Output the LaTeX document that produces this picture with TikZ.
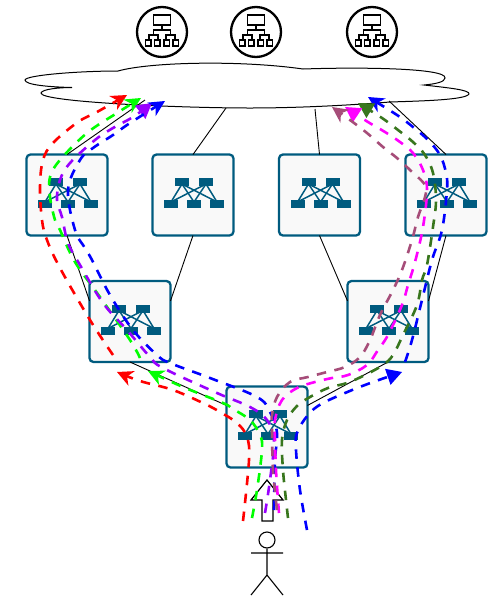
\documentclass[tikz,border=0pt]{standalone}
\usetikzlibrary{arrows.meta,calc}
\definecolor{swblue}{HTML}{005B7F}
\definecolor{boxfill}{HTML}{F9F9F9}
\definecolor{dgreen}{HTML}{38761D}
\definecolor{mauve}{HTML}{A64D79}
\definecolor{vio}{HTML}{9900FF}
\definecolor{magn}{HTML}{FF00FF}
\definecolor{rd}{HTML}{FF0000}
\definecolor{gr}{HTML}{00FF00}
\definecolor{bl}{HTML}{0000FF}
\tikzset{
  swbox/.style={draw=swblue,line width=2.3pt,fill=boxfill,rounded corners=4pt,minimum width=81pt,minimum height=81pt,inner sep=0pt,outer sep=0pt},
  link/.style={draw=black,line width=0.9pt},
  flow/.style={line width=2.6pt,dash pattern=on 9.5pt off 8.5pt},
  tipS/.style={-{Stealth[length=16pt,width=16pt,inset=5pt,line width=0pt]}},
  tipT/.style={-{Triangle[length=15pt,width=17pt,line width=0pt]}},
  srv/.style={draw=black,line width=2.3pt,fill=white,circle,minimum size=50pt,inner sep=0pt},
  srvline/.style={draw=black,line width=1.7pt},
  pics/swicon/.style={code={
    \foreach \tx in {-11,13}{\foreach \bx in {-22,1,24}{\draw[swblue,line width=1.5pt] (\tx,-11) -- (\bx,7);}}
    \foreach \tx in {-11,13}{\fill[swblue] (\tx-7,-17) rectangle (\tx+7,-9);}
    \foreach \bx in {-22,1,24}{\fill[swblue] (\bx-7,5) rectangle (\bx+7,13);}
  }},
  pics/srvicon/.style={code={
    \draw[srvline] (-8.5,-17) rectangle (8.5,-7);
    \draw[srvline] (0,-7) -- (0,-2);
    \draw[srvline] (-8.5,3) -- (-8.5,-2) -- (8.5,-2) -- (8.5,3);
    \draw[srvline] (-13,8) -- (-13,3) -- (-4,3) -- (-4,8);
    \draw[srvline] (13,8) -- (13,3) -- (4,3) -- (4,8);
    \foreach \x in {-16.5,-7.5,2,11}{\draw[srvline] (\x,8) rectangle ++(5.5,6);}
  }}
}
\begin{document}
\begin{tikzpicture}[x=1pt,y=-1pt]
\useasboundingbox (0,0) rectangle (501,598);
% servers
\node[srv] (s1) at (162,32) {};
\node[srv] (s2) at (256,32) {};
\node[srv] (s3) at (372,32) {};
\pic at (s1.center) {srvicon};
\pic at (s2.center) {srvicon};
\pic at (s3.center) {srvicon};
% cloud
\draw[fill=white,line width=1pt] (118,71)
  .. controls (150,62) and (240,60) .. (303,69)
  .. controls (360,67) and (447,68) .. (445,78)
  .. controls (445,82) and (435,84) .. (424,85)
  .. controls (450,88) and (470,90) .. (469,94)
  .. controls (466,100) and (420,101) .. (390,102)
  .. controls (340,106) and (290,108) .. (250,108)
  .. controls (180,108) and (40,102) .. (41,93)
  .. controls (42,89) and (60,87.5) .. (72,87.5)
  .. controls (50,87) and (25,85) .. (25,80)
  .. controls (26,75) and (80,71) .. (118,71) -- cycle;
\coordinate (c1) at (145,100);
\coordinate (c2) at (226,108);
\coordinate (c3) at (315,109);
\coordinate (c4) at (389,101);
% boxes
\node[swbox] (b1) at (67,195) {};
\node[swbox] (b2) at (193,195) {};
\node[swbox] (b3) at (319.5,195) {};
\node[swbox] (b4) at (446,195) {};
\node[swbox] (b5) at (130,321.5) {};
\node[swbox] (b6) at (388,321.5) {};
\node[swbox] (b7) at (267,427) {};
\foreach \n in {b1,b2,b3,b4,b5,b6,b7}{\pic at (\n.center) {swicon};}
% links
\draw[link] (c1) -- (b1.north);
\draw[link] (c2) -- (b2.north);
\draw[link] (c3) -- (b3.north);
\draw[link] (c4) -- (b4.north);
\draw[link] (b1.south) -- (b5.153);
\draw[link] (b2.south) -- (b5.27);
\draw[link] (b3.south) -- (b6.153);
\draw[link] (b4.south) -- (b6.27);
\draw[link] (b5.south) -- (b7.152);
\draw[link] (b6.south) -- (b7.28);
% person and big arrow
\draw[fill=white,line width=1.2pt] (267,480) -- (283,500) -- (273,500) -- (273,521) -- (262,521) -- (262,500) -- (251,500) -- cycle;
\node[draw=black,line width=1.1pt,circle,minimum size=16pt,inner sep=0pt] (head) at (267,540) {};
\coordinate (hip) at (267,575);
\coordinate (armL) at (251,553);
\coordinate (armR) at (283,553);
\coordinate (legL) at (251,595);
\coordinate (legR) at (283,595);
\draw[line width=1.1pt] (head) -- (hip) (armL) -- (armR) (legL) -- (hip) -- (legR);
% flows
\draw[flow,rd,tipS] plot[smooth,tension=0.6] coordinates {(243,521) (249,460) (247,437) (237,423) (220,412) (205,404) (173,390) (140,381) (117,372)};
\draw[flow,rd,tipS] plot[smooth,tension=0.6] coordinates {(113,355) (90,320) (60,268) (47,240) (42,220) (40,187) (43,160) (53,143) (78,122) (97,112) (127,95)};
\draw[flow,gr,tipS] plot[smooth,tension=0.6] coordinates {(252,518) (257,490) (262,450) (260,435) (250,420) (233,409) (223,403) (183,387) (148,371)};
\draw[flow,gr,tipS] plot[smooth,tension=0.6] coordinates {(140,358) (130,340) (100,297) (75,262) (60,230) (55,220) (50,197) (50,177) (60,160) (87,133) (117,113) (141,98)};
\draw[flow,vio,tipT] plot[smooth,tension=0.6] coordinates {(265,513) (270,480) (274,440) (267,420) (250,407) (217,393) (163,368) (150,357) (127,330) (103,303) (80,265) (68,243) (62,217) (57,200) (60,180) (70,163) (95,140) (113,128) (133,117) (152,103)};
\draw[flow,bl,tipS] plot[smooth,tension=0.6] coordinates {(274,510) (275,460) (277,433) (270,412) (257,397) (210,378) (170,363) (157,355) (133,330) (110,295) (92,260) (85,248) (75,230) (68,190) (80,160) (93,148) (113,135) (130,123) (165,101)};
\draw[flow,bl,tipT] plot[smooth,tension=0.6] coordinates {(307,530) (300,490) (296,450) (297,433) (308,415) (323,403) (357,388) (373,382) (402,372)};
\draw[flow,bl,tipS] plot[smooth,tension=0.6] coordinates {(405,362) (412,340) (422,300) (432,260) (442,230) (447,190) (446,173) (440,155) (428,140) (413,127) (397,115) (368,97)};
\draw[flow,dgreen,tipT] plot[smooth,tension=0.6] coordinates {(288,518) (286,500) (283,470) (282,440) (287,420) (297,406) (310,397) (328,388) (347,383) (365,375) (383,365) (393,355) (403,335) (417,305) (422,280) (427,265) (433,227) (436,200) (433,173) (425,155) (413,142) (398,130) (382,118) (358,103)};
\draw[flow,magn,tipT] plot[smooth,tension=0.6] coordinates {(279,513) (278,500) (276,470) (275,440) (275,420) (282,400) (297,388) (315,382) (332,378) (348,375) (367,365) (378,350) (388,335) (402,305) (408,285) (415,262) (423,227) (427,190) (423,170) (413,153) (400,142) (385,132) (368,122) (345,107)};
\draw[flow,mauve,tipS] plot[smooth,tension=0.6] coordinates {(277,510) (273,470) (272,430) (272,415) (277,397) (290,382) (308,377) (327,372) (345,367) (360,357) (370,340) (380,315) (393,290) (402,270) (412,240) (418,217) (425,197) (425,185) (410,170) (397,158) (383,147) (367,133) (350,120) (332,107)};
\end{tikzpicture}
\end{document}
